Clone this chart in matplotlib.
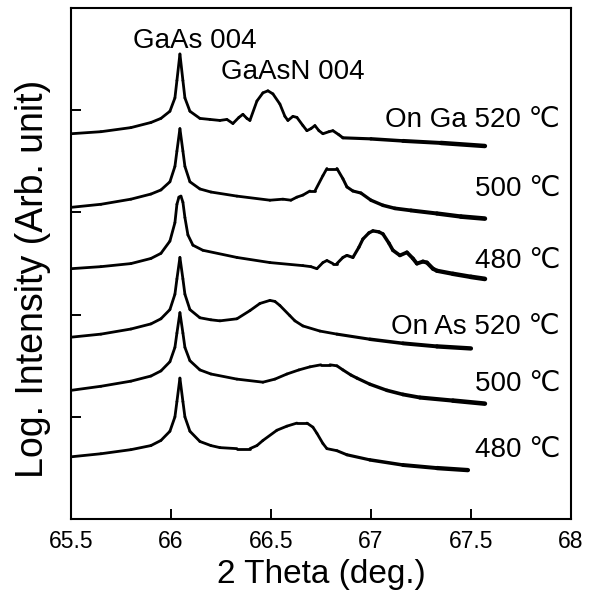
import matplotlib
matplotlib.use("Agg")
import numpy as np
import matplotlib.pyplot as plt
from matplotlib.collections import LineCollection

plt.rcParams['font.family'] = ['Liberation Sans', 'DejaVu Sans']

# 2-theta scans around the GaAs 004 reflection (log intensity, offset for clarity)
x_ga520 = [65.5, 65.65, 65.8, 65.9, 65.95, 65.995, 66.02, 66.03, 66.045, 66.06, 66.07,
           66.095, 66.145, 66.195, 66.245, 66.28, 66.31, 66.34, 66.36, 66.38, 66.395,
           66.43, 66.46, 66.485, 66.51, 66.545, 66.57, 66.585, 66.61, 66.63, 66.66,
           66.68, 66.70, 66.72, 66.74, 66.76, 66.79, 66.81, 66.84, 66.86, 67.0, 67.16,
           67.35, 67.57]
y_ga520 = [3.77, 3.79, 3.83, 3.88, 3.92, 3.99, 4.12, 4.29, 4.55, 4.29, 4.12,
           3.99, 3.92, 3.91, 3.90, 3.91, 3.87, 3.93, 3.96, 3.92, 3.90,
           4.09, 4.17, 4.19, 4.16, 4.06, 3.94, 3.90, 3.94, 3.93, 3.85,
           3.80, 3.82, 3.85, 3.80, 3.77, 3.79, 3.80, 3.76, 3.73, 3.72, 3.70,
           3.68, 3.65]

x_ga500 = [65.5, 65.65, 65.8, 65.9, 65.95, 65.995, 66.02, 66.03, 66.045, 66.06, 66.07,
           66.095, 66.145, 66.2, 66.33, 66.495, 66.56, 66.6, 66.63, 66.66, 66.695,
           66.72, 66.76, 66.78, 66.83, 66.86, 66.88, 66.91, 66.95, 67.0, 67.06,
           67.12, 67.2, 67.33, 67.45, 67.57]
y_ga500 = [3.05, 3.08, 3.13, 3.18, 3.22, 3.30, 3.45, 3.60, 3.82, 3.60, 3.45,
           3.30, 3.23, 3.20, 3.16, 3.12, 3.13, 3.12, 3.15, 3.17, 3.21,
           3.21, 3.36, 3.43, 3.43, 3.33, 3.25, 3.21, 3.19, 3.12, 3.07,
           3.04, 3.02, 2.99, 2.96, 2.94]

x_ga480 = [65.5, 65.65, 65.8, 65.9, 65.95, 65.995, 66.02, 66.03, 66.04, 66.05, 66.06,
           66.07, 66.085, 66.11, 66.16, 66.33, 66.495, 66.66, 66.70, 66.73, 66.76,
           66.78, 66.81, 66.83, 66.86, 66.88, 66.91, 66.94, 66.96, 66.99, 67.01,
           67.04, 67.06, 67.09, 67.11, 67.145, 67.18, 67.21, 67.23, 67.26, 67.28,
           67.31, 67.33, 67.41, 67.5, 67.57]
y_ga480 = [2.45, 2.47, 2.50, 2.55, 2.60, 2.72, 2.90, 3.08, 3.15, 3.16, 3.10,
           2.95, 2.78, 2.68, 2.63, 2.56, 2.51, 2.48, 2.47, 2.45, 2.51,
           2.53, 2.50, 2.50, 2.56, 2.58, 2.56, 2.66, 2.74, 2.80, 2.82,
           2.81, 2.79, 2.70, 2.63, 2.58, 2.61, 2.55, 2.50, 2.52, 2.51,
           2.45, 2.43, 2.40, 2.37, 2.35]

x_as520 = [65.5, 65.65, 65.8, 65.9, 65.95, 65.995, 66.02, 66.03, 66.045, 66.06, 66.07,
           66.095, 66.145, 66.2, 66.245, 66.33, 66.395, 66.445, 66.495, 66.52, 66.545,
           66.595, 66.62, 66.66, 66.745, 66.83, 66.995, 67.16, 67.33, 67.5]
y_as520 = [1.78, 1.81, 1.86, 1.91, 1.96, 2.05, 2.20, 2.35, 2.56, 2.35, 2.20,
           2.05, 1.97, 1.95, 1.94, 1.96, 2.04, 2.11, 2.14, 2.13, 2.09,
           1.99, 1.94, 1.89, 1.84, 1.81, 1.76, 1.72, 1.69, 1.67]

x_as500 = [65.5, 65.65, 65.8, 65.9, 65.95, 65.995, 66.02, 66.03, 66.045, 66.06, 66.07,
           66.095, 66.145, 66.2, 66.33, 66.46, 66.52, 66.58, 66.64, 66.695, 66.75,
           66.795, 66.83, 66.86, 66.9, 66.93, 66.995, 67.08, 67.16, 67.245, 67.41, 67.57]
y_as500 = [1.26, 1.30, 1.35, 1.40, 1.45, 1.54, 1.68, 1.82, 2.02, 1.82, 1.68,
           1.55, 1.46, 1.42, 1.37, 1.34, 1.37, 1.42, 1.46, 1.49, 1.51,
           1.51, 1.50, 1.46, 1.41, 1.38, 1.32, 1.26, 1.22, 1.19, 1.16, 1.13]

x_as480 = [65.5, 65.65, 65.8, 65.9, 65.95, 65.995, 66.02, 66.03, 66.045, 66.06, 66.07,
           66.095, 66.145, 66.2, 66.245, 66.33, 66.395, 66.43, 66.46, 66.53, 66.58,
           66.63, 66.68, 66.71, 66.73, 66.76, 66.78, 66.83, 66.88, 66.995, 67.16,
           67.33, 67.485]
y_as480 = [0.61, 0.64, 0.68, 0.72, 0.77, 0.86, 1.00, 1.15, 1.38, 1.15, 1.00,
           0.86, 0.76, 0.72, 0.70, 0.69, 0.69, 0.72, 0.77, 0.87, 0.91,
           0.94, 0.94, 0.90, 0.84, 0.74, 0.69, 0.67, 0.63, 0.58, 0.53,
           0.50, 0.48]

curves = [(x_ga520, y_ga520), (x_ga500, y_ga500), (x_ga480, y_ga480),
          (x_as520, y_as520), (x_as500, y_as500), (x_as480, y_as480)]

curve_labels = ["On Ga 520 \u2103", "500 \u2103", "480 \u2103",
                "On As 520 \u2103", "500 \u2103", "480 \u2103"]
label_y = [3.91, 3.23, 2.53, 1.88, 1.32, 0.68]

x_ticks = [65.5, 66, 66.5, 67, 67.5, 68]
x_tick_labels = ["65.5", "66", "66.5", "67", "67.5", "68"]
y_ticks = [1, 2, 3, 4]

fig = plt.figure(figsize=(5.91, 5.92), dpi=100)
ax = fig.add_axes([0.120, 0.123, 0.846, 0.8635])

for xs, ys in curves:
    xs = np.asarray(xs)
    ys = np.asarray(ys)
    pts = np.column_stack([xs, ys]).reshape(-1, 1, 2)
    segs = np.concatenate([pts[:-1], pts[1:]], axis=1)
    # the noisy high-angle tails read as a slightly thicker trace
    mid = 0.5 * (xs[:-1] + xs[1:])
    widths = 2.0 + 1.4 * np.clip((mid - 66.8) / 0.75, 0, 1)
    lc = LineCollection(segs, colors="black", linewidths=widths, capstyle="round",
                        joinstyle="round")
    ax.add_collection(lc)

for txt, yy in zip(curve_labels, label_y):
    ax.text(67.945, yy, txt, ha="right", va="center", fontsize=20)

ax.text(66.12, 4.68, "GaAs 004", ha="center", va="center", fontsize=20)
ax.text(66.61, 4.37, "GaAsN 004", ha="center", va="center", fontsize=20)

ax.set_xlim(65.5, 68)
ax.set_ylim(0, 5)
ax.set_xticks(x_ticks)
ax.set_xticklabels(x_tick_labels)
ax.set_yticks(y_ticks)
ax.set_yticklabels([])
ax.tick_params(axis="both", direction="in", length=7, width=1.4, labelsize=16.5, pad=8)
for s in ax.spines.values():
    s.set_linewidth(1.5)

ax.set_xlabel("2 Theta (deg.)", fontsize=24, labelpad=4)
ax.set_ylabel("Log. Intensity (Arb. unit)", fontsize=27)
ax.yaxis.set_label_coords(-0.04, 0.47)

fig.savefig("out.png", dpi=100)
